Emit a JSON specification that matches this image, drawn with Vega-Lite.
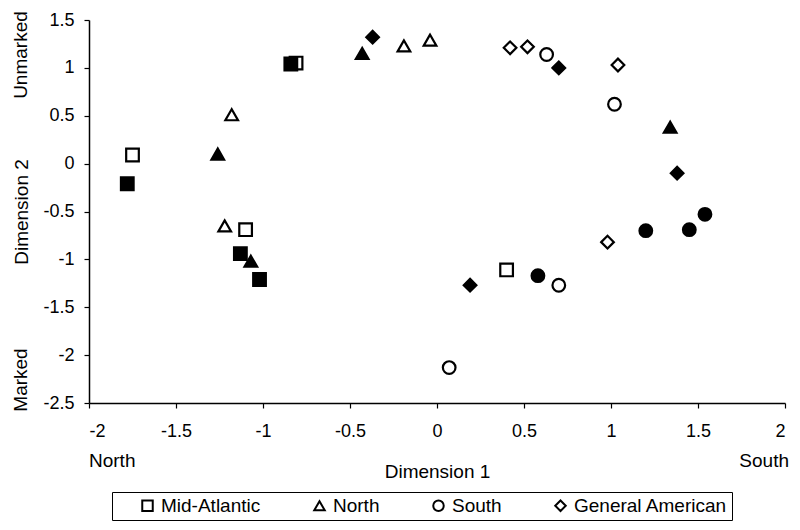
{
  "$schema": "https://vega.github.io/schema/vega-lite/v6.json",
  "width": 696,
  "height": 383,
  "autosize": {"type": "none"},
  "padding": {"left": 89, "top": 20, "right": 15, "bottom": 127},
  "background": "white",
  "config": {
    "view": {"stroke": null},
    "font": "Liberation Sans",
    "axis": {
      "domainColor": "black",
      "domainWidth": 1.5,
      "tickColor": "black",
      "tickWidth": 1.2,
      "tickSize": 5,
      "grid": false,
      "labelColor": "black",
      "labelFont": "Liberation Sans",
      "labelFontSize": 18,
      "titleColor": "black",
      "titleFont": "Liberation Sans",
      "titleFontSize": 19,
      "titleFontWeight": "normal"
    }
  },
  "datasets": {
    "points": [
      {"region": "Mid-Atlantic", "group": "open", "dim1": -1.75, "dim2": 0.09},
      {"region": "Mid-Atlantic", "group": "open", "dim1": -0.81, "dim2": 1.05},
      {"region": "Mid-Atlantic", "group": "open", "dim1": -1.10, "dim2": -0.69},
      {"region": "Mid-Atlantic", "group": "open", "dim1": 0.40, "dim2": -1.11},
      {"region": "North", "group": "open", "dim1": -1.18, "dim2": 0.51},
      {"region": "North", "group": "open", "dim1": -1.22, "dim2": -0.65},
      {"region": "North", "group": "open", "dim1": -0.19, "dim2": 1.23},
      {"region": "North", "group": "open", "dim1": -0.04, "dim2": 1.29},
      {"region": "South", "group": "open", "dim1": 0.63, "dim2": 1.14},
      {"region": "South", "group": "open", "dim1": 1.02, "dim2": 0.62},
      {"region": "South", "group": "open", "dim1": 0.70, "dim2": -1.27},
      {"region": "South", "group": "open", "dim1": 0.07, "dim2": -2.13},
      {"region": "General American", "group": "open", "dim1": 0.42, "dim2": 1.21},
      {"region": "General American", "group": "open", "dim1": 0.52, "dim2": 1.22},
      {"region": "General American", "group": "open", "dim1": 1.04, "dim2": 1.03},
      {"region": "General American", "group": "open", "dim1": 0.98, "dim2": -0.82},
      {"region": "Mid-Atlantic", "group": "filled", "dim1": -1.78, "dim2": -0.21},
      {"region": "Mid-Atlantic", "group": "filled", "dim1": -0.84, "dim2": 1.04},
      {"region": "Mid-Atlantic", "group": "filled", "dim1": -1.13, "dim2": -0.94},
      {"region": "Mid-Atlantic", "group": "filled", "dim1": -1.02, "dim2": -1.21},
      {"region": "North", "group": "filled", "dim1": -1.26, "dim2": 0.10},
      {"region": "North", "group": "filled", "dim1": -1.07, "dim2": -1.02},
      {"region": "North", "group": "filled", "dim1": -0.43, "dim2": 1.15},
      {"region": "North", "group": "filled", "dim1": 1.34, "dim2": 0.38},
      {"region": "South", "group": "filled", "dim1": 1.54, "dim2": -0.53},
      {"region": "South", "group": "filled", "dim1": 1.45, "dim2": -0.69},
      {"region": "South", "group": "filled", "dim1": 1.20, "dim2": -0.70},
      {"region": "South", "group": "filled", "dim1": 0.58, "dim2": -1.17},
      {"region": "General American", "group": "filled", "dim1": -0.37, "dim2": 1.32},
      {"region": "General American", "group": "filled", "dim1": 0.70, "dim2": 1.00},
      {"region": "General American", "group": "filled", "dim1": 1.38, "dim2": -0.10},
      {"region": "General American", "group": "filled", "dim1": 0.19, "dim2": -1.27}
    ],
    "north": [{"label": "North", "dim1": -2, "dim2": -2.5}],
    "south": [{"label": "South", "dim1": 2, "dim2": -2.5}],
    "ends": [
      {"label": "Unmarked", "dim1": -2, "dim2": 1.134},
      {"label": "Marked", "dim1": -2, "dim2": -2.26}
    ]
  },
  "layer": [
    {
      "data": {"name": "points"},
      "mark": {"type": "point", "filled": true, "stroke": "black", "strokeWidth": 2.2, "size": 160, "opacity": 1},
      "encoding": {
        "x": {
          "field": "dim1", "type": "quantitative",
          "scale": {"domain": [-2, 2], "nice": false, "zero": false},
          "axis": {
            "title": "Dimension 1",
            "values": [-2, -1.5, -1, -0.5, 0, 0.5, 1, 1.5, 2],
            "labelExpr": "datum.value + ''",
            "labelPadding": 14,
            "titleX": 348, "titleY": 74,
            "titleAlign": "center", "titleBaseline": "alphabetic"
          }
        },
        "y": {
          "field": "dim2", "type": "quantitative",
          "scale": {"domain": [-2.5, 1.5], "nice": false, "zero": false},
          "axis": {
            "title": "Dimension 2",
            "values": [-2.5, -2, -1.5, -1, -0.5, 0, 0.5, 1, 1.5],
            "labelExpr": "datum.value + ''",
            "labelPadding": 10,
            "titleAngle": -90,
            "titleX": -62, "titleY": 191.5,
            "titleAlign": "center", "titleBaseline": "alphabetic"
          }
        },
        "shape": {
          "field": "region", "type": "nominal",
          "scale": {
            "domain": ["Mid-Atlantic", "North", "South", "General American"],
            "range": ["square", "triangle-up", "circle", "diamond"]
          },
          "legend": {
            "title": null,
            "orient": "none",
            "legendX": 23,
            "legendY": 472,
            "direction": "horizontal",
            "columns": 4,
            "strokeColor": "black",
            "padding": 4,
            "columnPadding": 27,
            "labelFont": "Liberation Sans",
            "labelFontSize": 19,
            "labelColor": "black",
            "labelOffset": 4,
            "symbolSize": 110,
            "symbolFillColor": "white",
            "symbolStrokeColor": "black",
            "symbolStrokeWidth": 2,
            "symbolOpacity": 1,
            "symbolOffset": 22
          }
        },
        "fill": {
          "field": "group", "type": "nominal",
          "scale": {"domain": ["open", "filled"], "range": ["white", "black"]},
          "legend": null
        }
      }
    },
    {
      "data": {"name": "north"},
      "mark": {"type": "text", "align": "left", "baseline": "alphabetic", "dy": 64, "fontSize": 19, "font": "Liberation Sans", "color": "black"},
      "encoding": {
        "x": {"field": "dim1", "type": "quantitative"},
        "y": {"field": "dim2", "type": "quantitative"},
        "text": {"field": "label"}
      }
    },
    {
      "data": {"name": "south"},
      "mark": {"type": "text", "align": "right", "baseline": "alphabetic", "dx": 4, "dy": 64, "fontSize": 19, "font": "Liberation Sans", "color": "black"},
      "encoding": {
        "x": {"field": "dim1", "type": "quantitative"},
        "y": {"field": "dim2", "type": "quantitative"},
        "text": {"field": "label"}
      }
    },
    {
      "data": {"name": "ends"},
      "mark": {"type": "text", "align": "center", "baseline": "alphabetic", "angle": -90, "dy": -62, "fontSize": 19, "font": "Liberation Sans", "color": "black"},
      "encoding": {
        "x": {"field": "dim1", "type": "quantitative"},
        "y": {"field": "dim2", "type": "quantitative"},
        "text": {"field": "label"}
      }
    }
  ]
}
